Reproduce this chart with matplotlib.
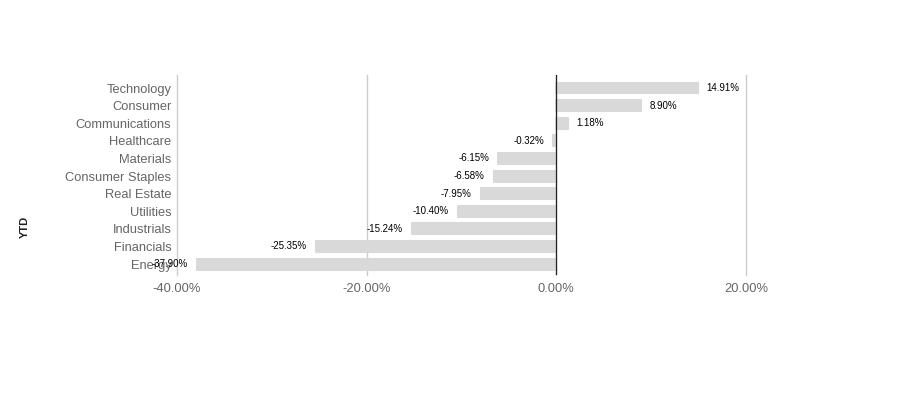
import matplotlib
matplotlib.use("Agg")
import matplotlib.pyplot as plt

plt.rcParams['font.family'] = ['Liberation Sans', 'DejaVu Sans']

categories = ["Technology", "Consumer", "Communications", "Healthcare", "Materials",
              "Consumer Staples", "Real Estate", "Utilities", "Industrials",
              "Financials", "Energy"]
values = [14.91, 8.90, 1.18, -0.32, -6.15, -6.58, -7.95, -10.40, -15.24, -25.35, -37.90]
xticks = [-40, -20, 0, 20]
xtick_labels = ["-40.00%", "-20.00%", "0.00%", "20.00%"]

fig = plt.figure(figsize=(9.21, 3.96), dpi=100)
ax = fig.add_axes([177/921, 1-275/396, (746-177)/921, 200/396])

y = list(range(len(categories)))
ax.barh(y, values, height=0.62, color="#d9d9d9", edgecolor="#d9d9d9",
        linewidth=1.5, joinstyle="round", zorder=2)

for yi, v in zip(y, values):
    txt = f"{v:.2f}%"
    if v >= 0:
        ax.annotate(txt, (v, yi), xytext=(6.5, 0), textcoords="offset points",
                    ha="left", va="center", fontsize=7, color="black", zorder=4)
    else:
        ax.annotate(txt, (v, yi), xytext=(-6.5, 0), textcoords="offset points",
                    ha="right", va="center", fontsize=7, color="black", zorder=4)

ax.set_xlim(-40, 20)
ax.set_ylim(10.62, -0.74)
ax.set_xticks(xticks)
ax.set_xticklabels(xtick_labels, fontsize=9.3, color="#666666")
ax.set_yticks(y)
ax.set_yticklabels(categories, fontsize=9.3, color="#666666")
ax.tick_params(axis="x", length=0, pad=6)
ax.tick_params(axis="y", length=0, pad=4)

ax.grid(axis="x", color="#cccccc", linewidth=1, zorder=0)
for gl in ax.get_xgridlines():
    gl.set_clip_on(False)
ax.axvline(0, color="#222222", linewidth=0.9, zorder=3)
for s in ax.spines.values():
    s.set_visible(False)

fig.text(25/921, 1-227/396, "YTD", rotation=90, fontsize=8, fontweight="bold",
         color="#222222", ha="center", va="center")

fig.savefig("out.png", dpi=100)
